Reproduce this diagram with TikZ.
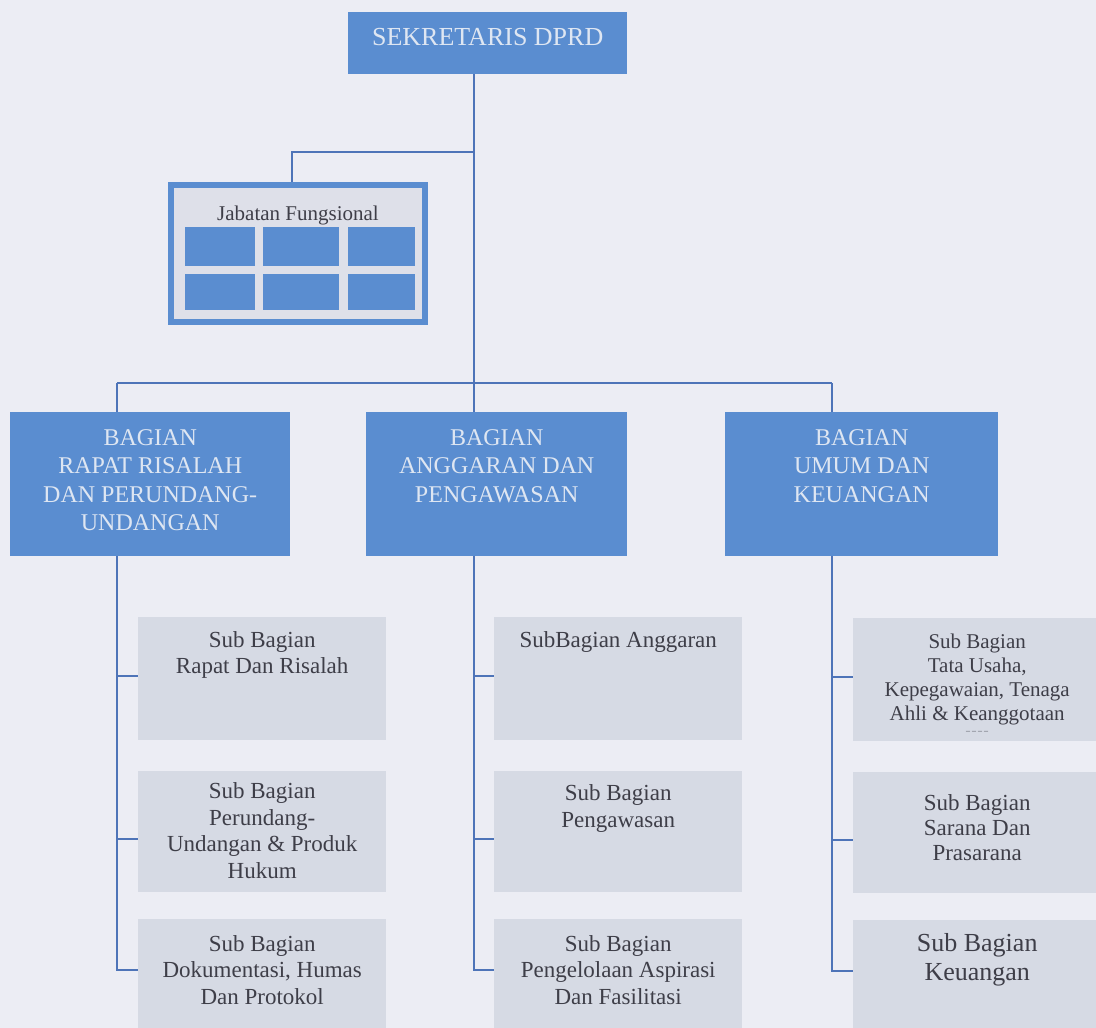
\documentclass[tikz,border=0pt]{standalone}
\usepackage{fontspec}
\setmainfont{Liberation Serif}
\usepackage{xcolor}
\usetikzlibrary{positioning}

\definecolor{bgcol}{RGB}{236,237,244}
\definecolor{boxblue}{RGB}{90,141,208}
\definecolor{headtext}{RGB}{222,230,242}
\definecolor{subfill}{RGB}{214,218,228}
\definecolor{subtext}{RGB}{62,62,72}
\definecolor{linecol}{RGB}{78,116,184}
\definecolor{jabfill}{RGB}{222,224,233}

\begin{document}
\begin{tikzpicture}[
    x=1pt, y=-1pt,
    conn/.style={draw=linecol, line width=2pt},
    head/.style={rectangle, fill=boxblue, anchor=north west, minimum width=#1, minimum height=144, inner sep=0pt},
    head/.default=280,
    headtxt/.style={anchor=north, align=center, text=headtext, font=\fontsize{24}{28.5}\selectfont},
    sub/.style={rectangle, fill=subfill, anchor=north west, minimum width=248, minimum height=123, inner sep=0pt},
    subtxt/.style={anchor=north, align=center, text=subtext, font=\fontsize{23}{26.5}\selectfont},
    cell/.style={rectangle, fill=boxblue, anchor=north west, inner sep=0pt},
]
    \useasboundingbox (0,0) rectangle (1096,1028);
    \clip (0,0) rectangle (1096,1028);
    \fill[bgcol] (0,0) rectangle (1096,1028);

    \node[head=279, minimum height=62, label={[headtxt, font=\fontsize{26}{30}\selectfont, yshift=-13]north:{SEKRETARIS DPRD}}] (sek) at (348,12) {};

    % Jabatan fungsional with its grid of cells
    \node[rectangle, draw=boxblue, line width=6pt, fill=jabfill, minimum width=254, minimum height=137,
          label={[anchor=north, text=subtext, font=\fontsize{21}{24}\selectfont, yshift=-20]north:{Jabatan Fungsional}}] (jab) at (298,253.5) {};
    \foreach \cx/\cw [count=\i] in {185/70, 263/76, 348/67}
        \foreach \cy/\ch [count=\j] in {227/39, 274/36}
            \node[cell, minimum width=\cw, minimum height=\ch] (cell\i\j) at (\cx,\cy) {};

    % Bagian
    \node[head, label={[headtxt, yshift=-14]north:{BAGIAN\\RAPAT RISALAH\\DAN PERUNDANG-\\UNDANGAN}}] (bag1) at (10,412) {};
    \node[head=261, label={[headtxt, yshift=-14]north:{BAGIAN\\ANGGARAN DAN\\PENGAWASAN}}] (bag2) at (366,412) {};
    \node[head=273, label={[headtxt, yshift=-14]north:{BAGIAN\\UMUM DAN\\KEUANGAN}}] (bag3) at (725,412) {};

    % Sub bagian, left
    \node[sub, label={[subtxt, yshift=-11]north:{Sub Bagian\\Rapat Dan Risalah}}] (rapat) at (138,617) {};
    \node[sub, below=30pt of rapat, minimum height=121, label={[subtxt, yshift=-9]north:{Sub Bagian\\Perundang-\\Undangan \& Produk\\Hukum}}] (peru) {};
    \node[sub, below=27pt of peru, label={[subtxt, yshift=-13]north:{Sub Bagian\\Dokumentasi, Humas\\Dan Protokol}}] (dok) {};

    % Sub bagian, middle
    \node[sub, label={[subtxt, yshift=-11]north:{SubBagian Anggaran}}] (angg) at (494,617) {};
    \node[sub, below=30pt of angg, minimum height=121, label={[subtxt, yshift=-11]north:{Sub Bagian\\Pengawasan}}] (awas) {};
    \node[sub, below=27pt of awas, label={[subtxt, yshift=-13]north:{Sub Bagian\\Pengelolaan Aspirasi\\Dan Fasilitasi}}] (aspir) {};

    % Sub bagian, right
    \node[sub, label={[subtxt, font=\fontsize{21}{24}\selectfont, yshift=-12]north:{Sub Bagian\\Tata Usaha,\\Kepegawaian, Tenaga\\Ahli \& Keanggotaan\\[-11pt]{\fontsize{8}{8}\selectfont -- -- -- --}}}] (tata) at (853,618) {};
    \node[sub, below=30pt of tata, minimum height=121, label={[subtxt, font=\fontsize{23}{25}\selectfont, yshift=-20]north:{Sub Bagian\\Sarana Dan\\Prasarana}}] (sarana) {};
    \node[sub, below=27pt of sarana, label={[subtxt, font=\fontsize{26}{29.5}\selectfont, yshift=-10]north:{Sub Bagian\\Keuangan}}] (keu) {};

    % connectors
    \coordinate (busL) at (117,383);
    \coordinate (busM) at (474,383);
    \coordinate (busR) at (832,383);
    \coordinate (jabj) at (474,152);
    \draw[conn] (sek.south -| busM) -- (busM);
    \draw[conn] (jabj) -| ([xshift=-6pt]jab.north);
    \draw[conn] (busL) -- (busR);
    \draw[conn] (busL) -- (busL |- bag1.north);
    \draw[conn] (busM) -- (busM |- bag2.north);
    \draw[conn] (busR) -- (busR |- bag3.north);
    \foreach \s/\d in {rapat/3, peru/-8, dok/11}
        \draw[conn] (bag1.south -| busL) |- ([yshift=\d]\s.west);
    \foreach \s/\d in {angg/3, awas/-8, aspir/11}
        \draw[conn] (bag2.south -| busM) |- ([yshift=\d]\s.west);
    \foreach \s/\d in {tata/3, sarana/-8, keu/11}
        \draw[conn] (bag3.south -| busR) |- ([yshift=\d]\s.west);
\end{tikzpicture}
\end{document}
